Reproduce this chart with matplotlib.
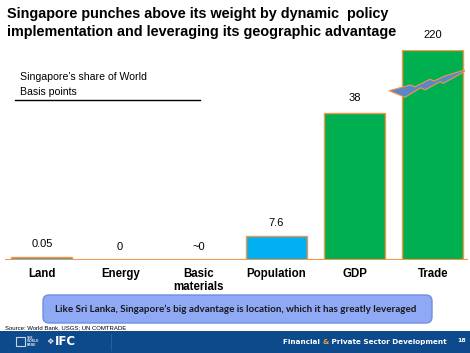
import matplotlib
matplotlib.use("Agg")
import matplotlib.pyplot as plt
from matplotlib.patches import Polygon, FancyBboxPatch, Rectangle

# ---- data ----
categories = ["Land", "Energy", "Basic\nmaterials", "Population", "GDP", "Trade"]
value_labels = ["0.05", "0", "~0", "7.6", "38", "220"]
# drawn bar lengths (axis is broken / not to scale)
bar_heights = [3.3, 0, 0, 24, 147, 210]
bar_colors = ["#00B0F0", "#00B0F0", "#00B0F0", "#00B0F0", "#00B050", "#00B050"]

title_lines = ["Singapore punches above its weight by dynamic  policy",
               "implementation and leveraging its geographic advantage"]
subtitle_lines = ["Singapore\u2019s share of World", "Basis points"]
callout = "Like Sri Lanka, Singapore\u2019s big advantage is location, which it has greatly leveraged"
source = "Source: World Bank, USGS; UN COMTRADE"
footer = ["Financial ", "&", " Private Sector Development"]
page = "18"

W, H = 470, 353
fig = plt.figure(figsize=(W / 100, H / 100), dpi=100)
fig.patch.set_facecolor("white")

# ---- bar axes ----
base_y, top_y = 260, 50
ax = fig.add_axes([5 / W, 1 - base_y / H, 463 / W, (base_y - top_y) / H])
x = list(range(len(categories)))
ax.bar(x, bar_heights, width=0.78, color=bar_colors, edgecolor="#F79646", linewidth=1.0, zorder=2)
ax.set_xlim(-0.473, 5.45)
ax.set_ylim(0, base_y - top_y)
ax.axhline(0, color="#F79646", lw=1.5, zorder=3)
for s in ax.spines.values():
    s.set_visible(False)
ax.set_yticks([])
ax.set_xticks(x)
ax.set_xticklabels(categories, fontsize=8.3, fontweight="bold", family="Liberation Sans", linespacing=1.1)
ax.tick_params(axis="x", length=0, pad=6)
for xi, h, lab in zip(x, bar_heights, value_labels):
    off = 9 if h < 100 else 10.5
    ax.annotate(lab, (xi, h), xytext=(0, off), textcoords="offset points",
                ha="center", va="center", fontsize=8, family="Liberation Sans")
ax.patch.set_alpha(0)

# ---- overlay in pixel coordinates ----
ov = fig.add_axes([0, 0, 1, 1], zorder=5)
ov.set_xlim(0, W)
ov.set_ylim(H, 0)
ov.axis("off")
ov.patch.set_alpha(0)

ov.text(7, 14, title_lines[0], fontsize=10.4, fontweight="bold", family="Liberation Sans", va="center", ha="left")
ov.text(7, 32, title_lines[1], fontsize=10.4, fontweight="bold", family="Liberation Sans", va="center", ha="left")

ov.text(20, 77, subtitle_lines[0], fontsize=7.6, family="Liberation Sans", va="center", ha="left")
ov.text(20, 92, subtitle_lines[1], fontsize=7.6, family="Liberation Sans", va="center", ha="left")
ov.plot([15, 200], [100, 100], color="black", lw=1)

bolt = [(389, 90.7), (410, 85), (415, 86.7), (430, 79.3), (434, 81), (445, 76), (464.3, 70),
        (464.3, 71.7), (443.3, 83.3), (440, 81.7), (425, 90), (420.7, 87.7), (405, 97.3)]
ov.add_patch(Polygon(bolt, closed=True, facecolor="#5B87C8", edgecolor="#F79646", lw=0.8))

ov.add_patch(FancyBboxPatch((43, 295), 389, 28, boxstyle="round,pad=0,rounding_size=6",
                            facecolor="#8FA9F5", edgecolor="#6F8FDF", lw=1))
ov.text(236, 309, callout, fontsize=7.1, fontweight="bold", family="Lato",
        color="#1a1a1a", ha="center", va="center")

ov.text(5, 328, source, fontsize=4.3, family="Liberation Sans", ha="left", va="center")

ov.add_patch(Rectangle((0, 331), W, 22, facecolor="#0C4A8C", edgecolor="none"))
ov.plot([111, 111], [334, 350], color="#2D62A0", lw=0.6)
ov.add_patch(Rectangle((16, 337), 9, 9, facecolor="none", edgecolor="#C8D4E6", lw=0.8))
ov.text(27, 341.5, "THE\nWORLD\nBANK", fontsize=2.2, color="#C8D4E6", ha="left", va="center",
        family="DejaVu Sans", fontweight="bold", linespacing=0.9)
ov.text(46, 341.5, "\u2756", fontsize=6, color="#DDE5F0", ha="left", va="center", family="DejaVu Sans")
ov.text(55, 341.5, "IFC", fontsize=8.5, color="white", ha="left", va="center",
        family="DejaVu Sans", fontweight="bold")

fx = 283
fsz = 5.2
t1 = ov.text(fx, 342, footer[0], fontsize=fsz, color="white", fontweight="bold",
             family="DejaVu Sans", ha="left", va="center")
fig.canvas.draw()
r = fig.canvas.get_renderer()
bb = t1.get_window_extent(r)
x2 = fx + bb.width
t2 = ov.text(x2, 342, footer[1], fontsize=fsz, color="#F0A030", fontweight="bold",
             family="DejaVu Sans", ha="left", va="center")
bb2 = t2.get_window_extent(r)
ov.text(x2 + bb2.width, 342, footer[2], fontsize=fsz, color="white", fontweight="bold",
        family="DejaVu Sans", ha="left", va="center")
ov.text(462, 341, page, fontsize=4.5, color="white", fontweight="bold", family="DejaVu Sans",
        ha="center", va="center")

fig.savefig("out.png", dpi=100)
